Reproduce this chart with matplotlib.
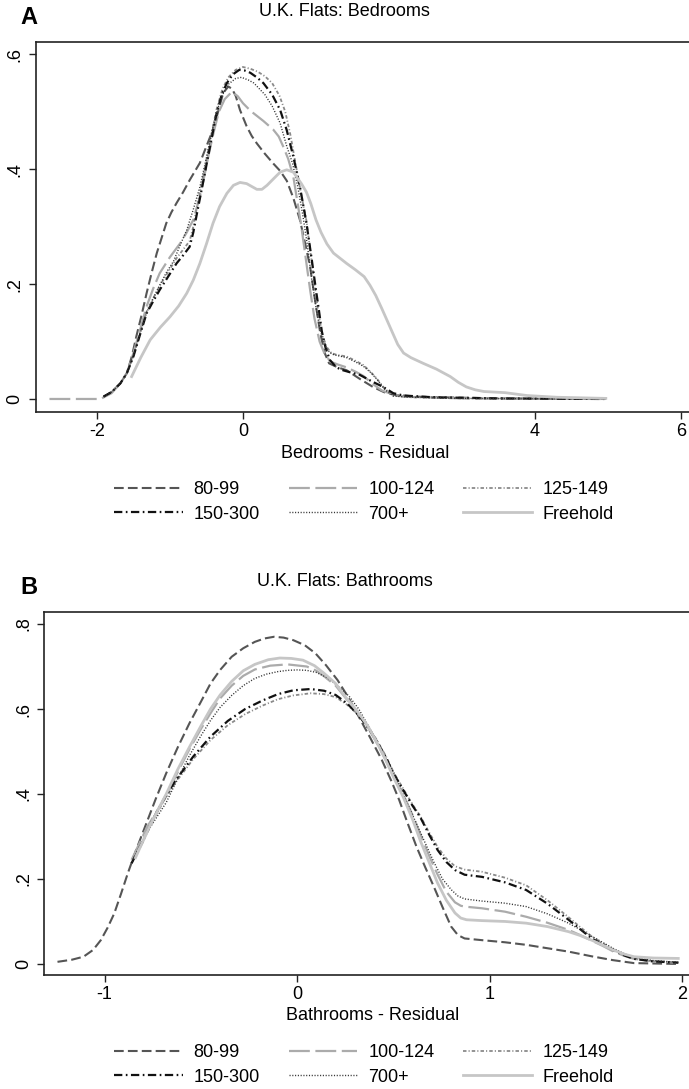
import matplotlib
matplotlib.use("Agg")
import matplotlib.pyplot as plt

plt.rcParams['font.family'] = ['Liberation Sans', 'DejaVu Sans']
plt.rcParams['lines.scale_dashes'] = False

labels = ['80-99', '100-124', '125-149', '150-300', '700+', 'Freehold']

# panel A: bedrooms residual densities
bed_x_8099 = [-1.91, -1.8, -1.68, -1.59, -1.52, -1.46, -1.39, -1.32, -1.25, -1.18, -1.11, -1.05, -0.98,
              -0.91, -0.82, -0.73, -0.66, -0.59, -0.5, -0.41, -0.34, -0.27, -0.2, -0.15, -0.1, -0.04,
              0.05, 0.12, 0.19, 0.3, 0.415, 0.51, 0.6, 0.69, 0.78, 0.85, 0.92, 0.99, 1.06, 1.12, 1.18,
              1.3, 1.42, 1.6, 1.78, 1.93, 2.08, 2.4, 2.68, 3.5, 4.97]
bed_y_8099 = [0.004, 0.012, 0.027, 0.045, 0.075, 0.109, 0.145, 0.184, 0.22, 0.254, 0.282, 0.306, 0.325,
              0.341, 0.36, 0.381, 0.396, 0.411, 0.44, 0.469, 0.5, 0.533, 0.544, 0.54, 0.528, 0.503,
              0.475, 0.458, 0.445, 0.427, 0.41, 0.397, 0.38, 0.35, 0.312, 0.272, 0.23, 0.17, 0.114, 0.08,
              0.062, 0.055, 0.05, 0.035, 0.021, 0.012, 0.007, 0.004, 0.003, 0.001, 0.0]

bed_x_100124 = [-2.65, -1.95, -1.8, -1.68, -1.59, -1.5, -1.41, -1.32, -1.23, -1.14, -1.0, -0.86, -0.77,
                -0.68, -0.59, -0.54, -0.47, -0.4, -0.33, -0.25, -0.15, -0.07, 0.0, 0.07, 0.14, 0.28, 0.415,
                0.49, 0.55, 0.62, 0.69, 0.75, 0.8, 0.86, 0.92, 0.98, 1.05, 1.12, 1.2, 1.3, 1.42, 1.55, 1.65,
                1.78, 1.9, 2.05, 2.2, 3.0, 4.97]
bed_y_100124 = [0.0, 0.0, 0.01, 0.027, 0.045, 0.08, 0.12, 0.161, 0.192, 0.219, 0.247, 0.271, 0.29,
                0.312, 0.352, 0.381, 0.425, 0.465, 0.5, 0.522, 0.535, 0.527, 0.515, 0.506, 0.498, 0.484,
                0.469, 0.457, 0.44, 0.418, 0.387, 0.34, 0.3, 0.245, 0.19, 0.14, 0.1, 0.078, 0.065, 0.06,
                0.055, 0.047, 0.04, 0.026, 0.015, 0.008, 0.004, 0.001, 0.0]

bed_x_125149 = [-1.91, -1.8, -1.68, -1.59, -1.5, -1.41, -1.32, -1.23, -1.14, -1.02, -0.91, -0.82, -0.73,
                -0.68, -0.63, -0.54, -0.45, -0.36, -0.28, -0.2, -0.1, 0.0, 0.1, 0.2, 0.3, 0.4, 0.5, 0.58,
                0.65, 0.72, 0.8, 0.87, 0.93, 0.99, 1.04, 1.09, 1.15, 1.21, 1.28, 1.42, 1.55, 1.65, 1.75,
                1.83, 1.94, 2.06, 2.3, 3.0, 4.97]
bed_y_125149 = [0.004, 0.012, 0.027, 0.045, 0.076, 0.115, 0.152, 0.175, 0.197, 0.222, 0.245, 0.26, 0.275,
                0.3, 0.335, 0.39, 0.45, 0.505, 0.54, 0.56, 0.573, 0.578, 0.575, 0.57, 0.562, 0.55, 0.528,
                0.5, 0.46, 0.41, 0.355, 0.31, 0.25, 0.19, 0.145, 0.11, 0.09, 0.08, 0.077, 0.074, 0.066,
                0.059, 0.047, 0.036, 0.018, 0.006, 0.003, 0.001, 0.0]

bed_x_150300 = [-1.91, -1.8, -1.68, -1.59, -1.5, -1.41, -1.32, -1.23, -1.14, -1.02, -0.91, -0.82, -0.73,
                -0.68, -0.63, -0.54, -0.45, -0.36, -0.29, -0.22, -0.14, -0.05, 0.02, 0.1, 0.19, 0.28, 0.4,
                0.51, 0.6, 0.69, 0.78, 0.87, 0.94, 1.0, 1.04, 1.08, 1.13, 1.19, 1.28, 1.37, 1.48, 1.6, 1.76,
                1.92, 2.06, 2.2, 2.6, 3.5, 4.97]
bed_y_150300 = [0.004, 0.012, 0.027, 0.045, 0.074, 0.112, 0.149, 0.17, 0.19, 0.214, 0.236, 0.25, 0.265,
                0.29, 0.323, 0.381, 0.44, 0.498, 0.53, 0.55, 0.565, 0.573, 0.572, 0.568, 0.56, 0.55, 0.53,
                0.503, 0.468, 0.422, 0.37, 0.306, 0.245, 0.19, 0.155, 0.118, 0.09, 0.068, 0.055, 0.05,
                0.046, 0.042, 0.031, 0.021, 0.01, 0.006, 0.003, 0.001, 0.0]

bed_x_700 = [-1.91, -1.8, -1.68, -1.59, -1.5, -1.41, -1.32, -1.23, -1.14, -1.05, -0.95, -0.86, -0.77,
             -0.68, -0.59, -0.5, -0.4, -0.3, -0.2, -0.1, -0.02, 0.08, 0.15, 0.3, 0.4, 0.51, 0.6, 0.68,
             0.75, 0.82, 0.88, 0.94, 1.0, 1.05, 1.1, 1.16, 1.22, 1.28, 1.42, 1.55, 1.65, 1.75, 1.83, 1.94,
             2.06, 2.3, 3.0, 4.97]
bed_y_700 = [0.004, 0.012, 0.027, 0.045, 0.075, 0.113, 0.15, 0.175, 0.198, 0.22, 0.24, 0.268, 0.294,
             0.33, 0.369, 0.42, 0.48, 0.525, 0.548, 0.558, 0.56, 0.555, 0.55, 0.53, 0.51, 0.48, 0.44, 0.41,
             0.37, 0.32, 0.27, 0.21, 0.16, 0.125, 0.1, 0.085, 0.078, 0.076, 0.072, 0.064, 0.057, 0.046,
             0.035, 0.017, 0.005, 0.003, 0.001, 0.0]

bed_x_free = [-1.525, -1.4, -1.27, -1.13, -1.0, -0.88, -0.77, -0.68, -0.59, -0.5, -0.41, -0.32, -0.22,
              -0.13, -0.04, 0.05, 0.12, 0.19, 0.26, 0.33, 0.4, 0.51, 0.6, 0.69, 0.8, 0.87, 0.93, 1.0, 1.07,
              1.15, 1.24, 1.33, 1.42, 1.54, 1.66, 1.74, 1.82, 1.9, 1.97, 2.05, 2.12, 2.2, 2.3, 2.47, 2.65,
              2.84, 2.95, 3.06, 3.18, 3.3, 3.59, 3.89, 4.3, 4.97]
bed_y_free = [0.039, 0.072, 0.103, 0.125, 0.143, 0.162, 0.184, 0.207, 0.236, 0.27, 0.306, 0.335, 0.358,
              0.372, 0.377, 0.375, 0.37, 0.365, 0.365, 0.372, 0.381, 0.395, 0.399, 0.395, 0.375, 0.36, 0.34,
              0.312, 0.29, 0.27, 0.254, 0.245, 0.236, 0.225, 0.213, 0.198, 0.18, 0.158, 0.138, 0.115,
              0.095, 0.08, 0.072, 0.062, 0.052, 0.039, 0.029, 0.021, 0.016, 0.013, 0.011, 0.006, 0.003,
              0.001]

# panel B: bathrooms residual densities
bath_x_8099 = [-1.245, -1.17, -1.11, -1.06, -1.02, -0.985, -0.95, -0.915, -0.88, -0.835, -0.79, -0.735,
               -0.68, -0.62, -0.56, -0.5, -0.45, -0.4, -0.34, -0.28, -0.22, -0.17, -0.12, -0.07, -0.02,
               0.04, 0.095, 0.15, 0.21, 0.265, 0.32, 0.38, 0.44, 0.49, 0.53, 0.575, 0.62, 0.665, 0.71,
               0.755, 0.8, 0.835, 0.87, 0.96, 1.08, 1.19, 1.3, 1.41, 1.53, 1.64, 1.75, 1.98]
bath_y_8099 = [0.005, 0.01, 0.017, 0.033, 0.056, 0.085, 0.119, 0.165, 0.213, 0.27, 0.323, 0.388,
               0.449, 0.51, 0.566, 0.617, 0.66, 0.692, 0.723, 0.743, 0.758, 0.766, 0.77, 0.768, 0.762,
               0.75, 0.731, 0.703, 0.668, 0.628, 0.582, 0.532, 0.48, 0.43, 0.386, 0.33, 0.276, 0.228,
               0.182, 0.134, 0.088, 0.068, 0.06, 0.056, 0.051, 0.045, 0.037, 0.029, 0.018, 0.009, 0.002,
               0.0]

bath_x_100124 = [-0.86, -0.78, -0.68, -0.62, -0.56, -0.5, -0.45, -0.4, -0.34, -0.28, -0.22, -0.14, -0.05,
                 0.05, 0.1, 0.14, 0.2, 0.25, 0.31, 0.37, 0.42, 0.46, 0.5, 0.55, 0.6, 0.64, 0.685, 0.73,
                 0.775, 0.82, 0.85, 0.87, 0.96, 1.08, 1.19, 1.3, 1.41, 1.47, 1.53, 1.59, 1.64, 1.7, 1.75,
                 1.85, 1.98]
bath_y_100124 = [0.245, 0.322, 0.395, 0.452, 0.505, 0.553, 0.59, 0.625, 0.655, 0.678, 0.693, 0.702, 0.705,
                 0.7, 0.69, 0.677, 0.655, 0.627, 0.593, 0.555, 0.515, 0.48, 0.443, 0.4, 0.35, 0.305, 0.255,
                 0.21, 0.17, 0.145, 0.137, 0.135, 0.131, 0.123, 0.111, 0.097, 0.08, 0.068, 0.055, 0.042,
                 0.03, 0.019, 0.012, 0.006, 0.003]

bath_x_125149 = [-0.86, -0.8, -0.75, -0.69, -0.63, -0.54, -0.45, -0.36, -0.27, -0.18, -0.1, -0.02, 0.07,
                 0.14, 0.2, 0.26, 0.32, 0.37, 0.41, 0.46, 0.5, 0.55, 0.6, 0.64, 0.685, 0.73, 0.775, 0.82,
                 0.87, 0.96, 1.08, 1.19, 1.3, 1.41, 1.47, 1.53, 1.59, 1.64, 1.7, 1.75, 1.85, 1.98]
bath_y_125149 = [0.237, 0.288, 0.337, 0.386, 0.428, 0.482, 0.527, 0.562, 0.588, 0.608, 0.623, 0.632, 0.637,
                 0.635, 0.628, 0.61, 0.585, 0.557, 0.53, 0.49, 0.452, 0.413, 0.375, 0.348, 0.31, 0.275,
                 0.248, 0.23, 0.222, 0.217, 0.203, 0.185, 0.15, 0.11, 0.087, 0.065, 0.048, 0.035, 0.021,
                 0.013, 0.006, 0.003]

bath_x_150300 = [-0.86, -0.8, -0.75, -0.69, -0.63, -0.54, -0.45, -0.36, -0.27, -0.18, -0.1, -0.02, 0.07,
                 0.14, 0.2, 0.26, 0.32, 0.37, 0.41, 0.46, 0.5, 0.55, 0.6, 0.64, 0.685, 0.73, 0.775, 0.82,
                 0.87, 0.96, 1.08, 1.19, 1.3, 1.41, 1.47, 1.53, 1.59, 1.64, 1.7, 1.75, 1.85, 1.98]
bath_y_150300 = [0.237, 0.29, 0.34, 0.39, 0.433, 0.488, 0.535, 0.572, 0.6, 0.62, 0.635, 0.644, 0.647,
                 0.643, 0.633, 0.613, 0.585, 0.555, 0.527, 0.487, 0.449, 0.41, 0.372, 0.345, 0.305, 0.268,
                 0.24, 0.221, 0.21, 0.205, 0.192, 0.174, 0.142, 0.104, 0.082, 0.06, 0.045, 0.033, 0.02,
                 0.012, 0.006, 0.003]

bath_x_700 = [-0.86, -0.78, -0.68, -0.62, -0.56, -0.5, -0.45, -0.4, -0.34, -0.28, -0.22, -0.16, -0.1,
              -0.05, 0.0, 0.05, 0.1, 0.16, 0.21, 0.27, 0.32, 0.38, 0.44, 0.49, 0.53, 0.58, 0.62, 0.665,
              0.71, 0.755, 0.8, 0.835, 0.87, 0.96, 1.08, 1.19, 1.3, 1.41, 1.47, 1.53, 1.59, 1.64, 1.7,
              1.75, 1.85, 1.98]
bath_y_700 = [0.24, 0.31, 0.38, 0.437, 0.49, 0.537, 0.573, 0.604, 0.632, 0.655, 0.672, 0.682, 0.688,
              0.691, 0.692, 0.691, 0.686, 0.673, 0.655, 0.63, 0.6, 0.552, 0.5, 0.46, 0.42, 0.37, 0.33,
              0.285, 0.24, 0.2, 0.175, 0.16, 0.153, 0.148, 0.143, 0.135, 0.118, 0.096, 0.081, 0.065,
              0.05, 0.037, 0.024, 0.015, 0.008, 0.004]

bath_x_free = [-0.84, -0.76, -0.68, -0.62, -0.56, -0.5, -0.45, -0.4, -0.34, -0.28, -0.22, -0.15, -0.09,
               -0.03, 0.03, 0.09, 0.14, 0.2, 0.25, 0.31, 0.37, 0.42, 0.46, 0.5, 0.55, 0.6, 0.64, 0.685,
               0.73, 0.775, 0.82, 0.85, 0.88, 0.96, 1.08, 1.19, 1.3, 1.41, 1.47, 1.53, 1.59, 1.64, 1.7,
               1.75, 1.85, 1.98]
bath_y_free = [0.25, 0.33, 0.4, 0.458, 0.51, 0.56, 0.6, 0.633, 0.665, 0.69, 0.705, 0.716, 0.72, 0.719,
               0.715, 0.702, 0.684, 0.66, 0.629, 0.596, 0.558, 0.516, 0.48, 0.44, 0.394, 0.34, 0.29, 0.24,
               0.19, 0.15, 0.12, 0.108, 0.104, 0.102, 0.1, 0.096, 0.088, 0.076, 0.067, 0.056, 0.044,
               0.033, 0.023, 0.017, 0.014, 0.013]

# line styles for each group
styles = {
    '80-99':    dict(color='#555555', lw=1.5, dashes=(7, 3)),
    '100-124':  dict(color='#ababab', lw=1.6, dashes=(15, 4)),
    '125-149':  dict(color='#8a8a8a', lw=1.3, dashes=(2.5, 1.5, 0.8, 1.5)),
    '150-300':  dict(color='#111111', lw=1.6, dashes=(6, 2.5, 1.2, 2.5)),
    '700+':     dict(color='#333333', lw=1.0, dashes=(0.8, 1.2)),
    'Freehold': dict(color='#c6c6c6', lw=2.0),
}

bed = {'80-99': (bed_x_8099, bed_y_8099), '100-124': (bed_x_100124, bed_y_100124),
       '125-149': (bed_x_125149, bed_y_125149), '150-300': (bed_x_150300, bed_y_150300),
       '700+': (bed_x_700, bed_y_700), 'Freehold': (bed_x_free, bed_y_free)}
bath = {'80-99': (bath_x_8099, bath_y_8099), '100-124': (bath_x_100124, bath_y_100124),
        '125-149': (bath_x_125149, bath_y_125149), '150-300': (bath_x_150300, bath_y_150300),
        '700+': (bath_x_700, bath_y_700), 'Freehold': (bath_x_free, bath_y_free)}

fig = plt.figure(figsize=(6.89, 10.89), dpi=100)
W, H = 689.0, 1089.0


def panel(rect, data, xlim, ylim, xticks, yticks, ytl, xlabel, title, letter, title_y, leg_y):
    ax = fig.add_axes(rect)
    lines = {}
    for lab in labels:
        x, y = data[lab]
        lines[lab], = ax.plot(x, y, label=lab, **styles[lab])
    ax.set_xlim(*xlim)
    ax.set_ylim(*ylim)
    ax.set_xticks(xticks)
    ax.set_xticklabels([str(t) for t in xticks])
    ax.set_yticks(yticks)
    ax.set_yticklabels(ytl, rotation=90, va='center')
    ax.tick_params(direction='out', length=5, width=1.0, labelsize=13, color='#222222')
    ax.tick_params(axis='y', pad=4)
    ax.tick_params(axis='x', pad=3)
    for s in ax.spines.values():
        s.set_linewidth(1.2)
        s.set_color('#222222')
    ax.set_xlabel(xlabel, fontsize=13, labelpad=3)
    fig.text(0.5, 1 - title_y / H, title, ha='center', va='center', fontsize=13)
    fig.text(29 / W, 1 - (title_y + 5) / H, letter, ha='center', va='center', fontsize=17,
             fontweight='bold')
    order = ['80-99', '150-300', '100-124', '700+', '125-149', 'Freehold']
    fig.legend([lines[k] for k in order], order, loc='center', ncol=3,
               bbox_to_anchor=(364 / W, 1 - leg_y / H), frameon=False, fontsize=13,
               handlelength=3.8, handletextpad=0.6, columnspacing=1.6, labelspacing=0.4,
               borderpad=0)
    return ax


panel([35.6 / W, 1 - 412.3 / H, 660 / W, 370 / H], bed, (-2.84, 6.2), (-0.0232, 0.621),
      [-2, 0, 2, 4, 6], [0, 0.2, 0.4, 0.6], ['0', '.2', '.4', '.6'],
      'Bedrooms - Residual', 'U.K. Flats: Bedrooms', 'A', 12, 502)

panel([44.4 / W, 1 - 975 / H, 656.4 / W, 363.3 / H], bath, (-1.313, 2.097), (-0.026, 0.829),
      [-1, 0, 1, 2], [0, 0.2, 0.4, 0.6, 0.8], ['0', '.2', '.4', '.6', '.8'],
      'Bathrooms - Residual', 'U.K. Flats: Bathrooms', 'B', 582, 1065)

fig.savefig('out.png', dpi=100)
